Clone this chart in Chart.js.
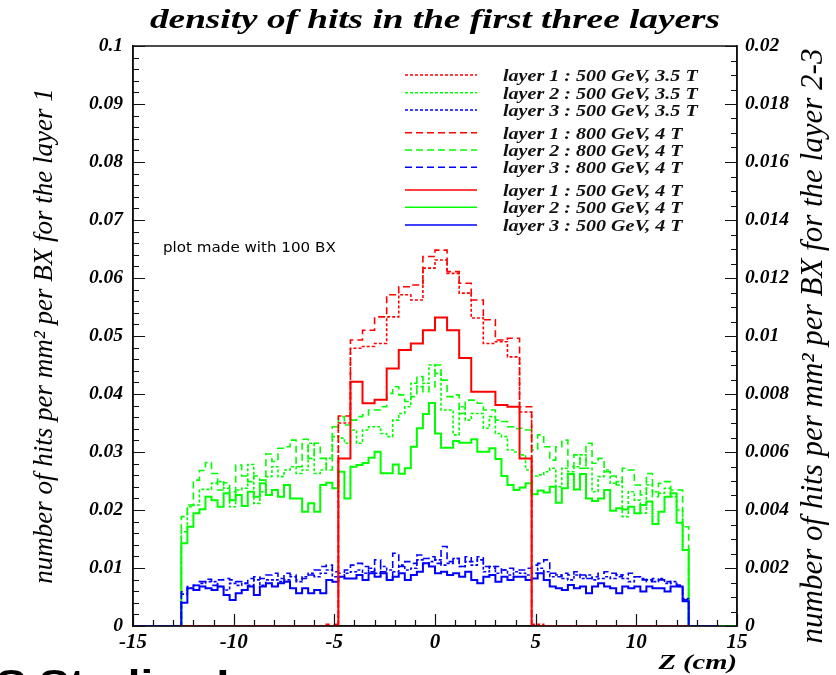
<!DOCTYPE html>
<html>
<head>
<meta charset="utf-8">
<script src="https://cdn.jsdelivr.net/npm/chart.js@4/dist/chart.umd.min.js"></script>
<style>
  html, body { margin: 0; padding: 0; background: #fff; }
  #wrap { position: relative; width: 836px; height: 675px; overflow: hidden; }
  canvas { display: block; }
</style>
</head>
<body>
<div id="wrap"><canvas id="c" width="836" height="675"></canvas></div>
<script>
// ---- histogram contents ----------------------------------------------------
// layers 2 and 3: 84 bins of 0.3 cm from z = -12.6 cm to z = +12.6 cm (right axis units)
const fineStart = -12.6;
const fineWidth = 0.3;

const layer2_500GeV_35T = [
  0.00325, 0.00411, 0.00417, 0.00471, 0.00471, 0.00492, 0.00498, 0.00475, 0.00411, 0.00469, 0.00475, 0.00557, 0.00423, 0.00463,
  0.00515, 0.00549, 0.00515, 0.00538, 0.00549, 0.00526, 0.00538, 0.00630, 0.00526, 0.00538, 0.00578, 0.00653, 0.00648, 0.00630,
  0.00676, 0.00630, 0.00676, 0.00687, 0.00687, 0.00664, 0.00653, 0.00710, 0.00733, 0.00756, 0.00837, 0.00825, 0.00837, 0.00900,
  0.00871, 0.00745, 0.00745, 0.00659, 0.00756, 0.00710, 0.00733, 0.00733, 0.00682, 0.00722, 0.00664, 0.00653, 0.00607, 0.00600,
  0.00590, 0.00538, 0.00517, 0.00521, 0.00532, 0.00544, 0.00480, 0.00544, 0.00532, 0.00549, 0.00590, 0.00544, 0.00463, 0.00515,
  0.00538, 0.00492, 0.00498, 0.00377, 0.00463, 0.00434, 0.00389, 0.00486, 0.00463, 0.00458, 0.00475, 0.00446, 0.00400, 0.00262
];
const layer3_500GeV_35T = [
  0.00110, 0.00130, 0.00140, 0.00147, 0.00153, 0.00153, 0.00136, 0.00124, 0.00147, 0.00140, 0.00147, 0.00140, 0.00159, 0.00140,
  0.00159, 0.00159, 0.00153, 0.00159, 0.00170, 0.00153, 0.00170, 0.00182, 0.00170, 0.00182, 0.00193, 0.00170, 0.00170, 0.00182,
  0.00187, 0.00193, 0.00182, 0.00199, 0.00182, 0.00205, 0.00193, 0.00187, 0.00210, 0.00193, 0.00199, 0.00228, 0.00216, 0.00222,
  0.00228, 0.00210, 0.00216, 0.00233, 0.00205, 0.00222, 0.00210, 0.00228, 0.00187, 0.00205, 0.00182, 0.00193, 0.00176, 0.00187,
  0.00182, 0.00176, 0.00182, 0.00199, 0.00187, 0.00170, 0.00176, 0.00164, 0.00159, 0.00176, 0.00164, 0.00176, 0.00159, 0.00164,
  0.00170, 0.00164, 0.00176, 0.00164, 0.00153, 0.00170, 0.00164, 0.00159, 0.00153, 0.00164, 0.00147, 0.00153, 0.00136, 0.00095
];
const layer2_800GeV_4T = [
  0.00377, 0.00417, 0.00503, 0.00536, 0.00564, 0.00526, 0.00469, 0.00494, 0.00463, 0.00555, 0.00517, 0.00498, 0.00517, 0.00503,
  0.00593, 0.00567, 0.00613, 0.00618, 0.00641, 0.00549, 0.00644, 0.00578, 0.00630, 0.00578, 0.00538, 0.00687, 0.00722, 0.00693,
  0.00710, 0.00722, 0.00728, 0.00745, 0.00745, 0.00756, 0.00802, 0.00825, 0.00797, 0.00774, 0.00791, 0.00860, 0.00808, 0.00825,
  0.00900, 0.00848, 0.00791, 0.00797, 0.00733, 0.00779, 0.00779, 0.00768, 0.00745, 0.00745, 0.00710, 0.00705, 0.00687, 0.00680,
  0.00682, 0.00676, 0.00607, 0.00659, 0.00618, 0.00572, 0.00618, 0.00641, 0.00549, 0.00590, 0.00544, 0.00630, 0.00561, 0.00578,
  0.00532, 0.00517, 0.00486, 0.00544, 0.00538, 0.00486, 0.00452, 0.00526, 0.00446, 0.00492, 0.00498, 0.00469, 0.00469, 0.00342
];
const layer3_800GeV_4T = [
  0.00118, 0.00136, 0.00140, 0.00153, 0.00161, 0.00140, 0.00159, 0.00164, 0.00159, 0.00153, 0.00147, 0.00164, 0.00170, 0.00164,
  0.00176, 0.00182, 0.00164, 0.00182, 0.00176, 0.00159, 0.00164, 0.00176, 0.00193, 0.00205, 0.00210, 0.00187, 0.00182, 0.00193,
  0.00210, 0.00216, 0.00205, 0.00187, 0.00228, 0.00187, 0.00159, 0.00251, 0.00205, 0.00222, 0.00216, 0.00245, 0.00233, 0.00239,
  0.00216, 0.00274, 0.00222, 0.00233, 0.00205, 0.00239, 0.00222, 0.00239, 0.00205, 0.00199, 0.00205, 0.00193, 0.00199, 0.00193,
  0.00193, 0.00199, 0.00210, 0.00216, 0.00228, 0.00182, 0.00170, 0.00182, 0.00176, 0.00187, 0.00176, 0.00164, 0.00170, 0.00182,
  0.00187, 0.00182, 0.00170, 0.00176, 0.00182, 0.00170, 0.00159, 0.00153, 0.00164, 0.00159, 0.00153, 0.00147, 0.00141, 0.00090
];
const layer2_500GeV_4T = [
  0.00285, 0.00342, 0.00389, 0.00403, 0.00446, 0.00434, 0.00411, 0.00458, 0.00434, 0.00452, 0.00414, 0.00463, 0.00446, 0.00492,
  0.00452, 0.00469, 0.00446, 0.00486, 0.00440, 0.00440, 0.00394, 0.00423, 0.00394, 0.00486, 0.00494, 0.00475, 0.00532, 0.00440,
  0.00549, 0.00555, 0.00562, 0.00580, 0.00601, 0.00527, 0.00527, 0.00557, 0.00525, 0.00544, 0.00618, 0.00682, 0.00731, 0.00769,
  0.00664, 0.00615, 0.00615, 0.00638, 0.00632, 0.00632, 0.00644, 0.00601, 0.00601, 0.00613, 0.00576, 0.00517, 0.00486, 0.00469,
  0.00478, 0.00492, 0.00454, 0.00467, 0.00460, 0.00480, 0.00425, 0.00475, 0.00524, 0.00471, 0.00524, 0.00440, 0.00431, 0.00440,
  0.00469, 0.00397, 0.00406, 0.00402, 0.00411, 0.00389, 0.00417, 0.00429, 0.00352, 0.00394, 0.00446, 0.00458, 0.00356, 0.00262
];
const layer3_500GeV_4T = [
  0.00080, 0.00130, 0.00124, 0.00136, 0.00130, 0.00124, 0.00136, 0.00107, 0.00090, 0.00113, 0.00124, 0.00136, 0.00107, 0.00136,
  0.00147, 0.00136, 0.00147, 0.00153, 0.00130, 0.00113, 0.00130, 0.00113, 0.00124, 0.00113, 0.00159, 0.00153, 0.00170, 0.00164,
  0.00164, 0.00176, 0.00159, 0.00182, 0.00170, 0.00182, 0.00159, 0.00170, 0.00182, 0.00159, 0.00176, 0.00187, 0.00216, 0.00205,
  0.00182, 0.00187, 0.00176, 0.00182, 0.00170, 0.00187, 0.00159, 0.00147, 0.00170, 0.00176, 0.00153, 0.00170, 0.00159, 0.00170,
  0.00170, 0.00159, 0.00164, 0.00182, 0.00159, 0.00136, 0.00130, 0.00124, 0.00141, 0.00130, 0.00136, 0.00113, 0.00136, 0.00147,
  0.00136, 0.00130, 0.00113, 0.00136, 0.00130, 0.00136, 0.00119, 0.00136, 0.00130, 0.00130, 0.00119, 0.00136, 0.00136, 0.00085
];

// layer 1: 18 bins of 0.6 cm from z = -5.4 cm to z = +5.4 cm (left axis units)
const coarseStart = -5.4;
const coarseWidth = 0.6;
const layer1_500GeV_35T = [0, 0.0350, 0.0479, 0.0482, 0.0487, 0.0533, 0.0571, 0.0562, 0.0617, 0.0631, 0.0608, 0.0574, 0.0531, 0.0487, 0.0490, 0.0464, 0.0369, 0.0003];
const layer1_800GeV_4T  = [0.0003, 0.0362, 0.0493, 0.0510, 0.0533, 0.0571, 0.0585, 0.0588, 0.0637, 0.0648, 0.0611, 0.0591, 0.0562, 0.0528, 0.0493, 0.0496, 0.0378, 0];
const layer1_500GeV_4T  = [0, 0.0289, 0.0421, 0.0384, 0.0390, 0.0444, 0.0476, 0.0487, 0.0510, 0.0532, 0.0510, 0.0462, 0.0404, 0.0404, 0.0381, 0.0378, 0.0289, 0];

// ---- axes ------------------------------------------------------------------
const xTickValues = [-15, -10, -5, 0, 5, 10, 15];
const xTickLabels = ['-15', '-10', '-5', '0', '5', '10', '15'];
const yLeftTickValues = [0, 0.01, 0.02, 0.03, 0.04, 0.05, 0.06, 0.07, 0.08, 0.09, 0.1];
const yLeftTickLabels = ['0', '0.01', '0.02', '0.03', '0.04', '0.05', '0.06', '0.07', '0.08', '0.09', '0.1'];
const yRightTickValues = [0, 0.002, 0.004, 0.006, 0.008, 0.01, 0.012, 0.014, 0.016, 0.018, 0.02];
const yRightTickLabels = ['0', '0.002', '0.004', '0.006', '0.008', '0.01', '0.012', '0.014', '0.016', '0.018', '0.02'];

const chartTitle = 'density of hits in the first three layers';
const xTitle = 'Z (cm)';
const yLeftTitle = 'number of hits per mm\u00B2 per BX for the layer 1';
const yRightTitle = 'number of hits per mm\u00B2 per BX for the layer 2-3';
const noteText = 'plot made with 100 BX';
const footerText = 'S Studies I';

// ---- styles ----------------------------------------------------------------
const RED = 'rgb(255,0,0)', GREEN = 'rgb(0,255,0)', BLUE = 'rgb(0,0,255)';
const DOTTED = [3, 2], DASHED = [7, 4], SOLID = [];
const SERIF = '"Liberation Serif", "DejaVu Serif", serif';
const serifBI = (size) => ({ family: SERIF, size, style: 'italic', weight: 'bold' });

// turn bin contents into stepped outline points: flat at zero from rangeMin, the bins, back to zero up to rangeMax
function outline(start, width, values, rangeMin, rangeMax) {
  const pts = [{ x: rangeMin, y: 0 }];
  values.forEach((v, i) => pts.push({ x: +(start + i * width).toFixed(4), y: v }));
  pts.push({ x: +(start + values.length * width).toFixed(4), y: 0 });
  pts.push({ x: rangeMax, y: 0 });
  return pts;
}

function series(label, color, dash, axis, pts, order, width) {
  return {
    label, data: pts, yAxisID: axis, order,
    borderColor: color, backgroundColor: color, borderDash: dash,
    borderWidth: width, pointRadius: 0, fill: false, stepped: 'before', tension: 0
  };
}

const datasets = [
  series('layer 1 : 500 GeV, 3.5 T', RED,   DOTTED, 'y',  outline(coarseStart, coarseWidth, layer1_500GeV_35T, -12.6, 12.6), 0, 1.6),
  series('layer 2 : 500 GeV, 3.5 T', GREEN, DOTTED, 'y2', outline(fineStart, fineWidth, layer2_500GeV_35T, -15, 15), 2, 1.6),
  series('layer 3 : 500 GeV, 3.5 T', BLUE,  DOTTED, 'y2', outline(fineStart, fineWidth, layer3_500GeV_35T, -15, 14.1), 1, 1.6),
  series('layer 1 : 800 GeV, 4 T',   RED,   DASHED, 'y',  outline(coarseStart, coarseWidth, layer1_800GeV_4T, -12.6, 12.6), 0, 1.6),
  series('layer 2 : 800 GeV, 4 T',   GREEN, DASHED, 'y2', outline(fineStart, fineWidth, layer2_800GeV_4T, -15, 15), 2, 1.6),
  series('layer 3 : 800 GeV, 4 T',   BLUE,  DASHED, 'y2', outline(fineStart, fineWidth, layer3_800GeV_4T, -15, 14.1), 1, 1.6),
  series('layer 1 : 500 GeV, 4 T',   RED,   SOLID,  'y',  outline(coarseStart, coarseWidth, layer1_500GeV_4T, -12.6, 12.6), 0, 2),
  series('layer 2 : 500 GeV, 4 T',   GREEN, SOLID,  'y2', outline(fineStart, fineWidth, layer2_500GeV_4T, -15, 15), 2, 2),
  series('layer 3 : 500 GeV, 4 T',   BLUE,  SOLID,  'y2', outline(fineStart, fineWidth, layer3_500GeV_4T, -15, 14.1), 1, 2)
];

// text drawn with a horizontal stretch, like the wide italic face of the plot
function wideText(ctx, text, x, y, font, stretch, align) {
  ctx.save();
  ctx.font = font;
  ctx.textAlign = 'left';
  const w = ctx.measureText(text).width * stretch;
  let x0 = x;
  if (align === 'center') x0 = x - w / 2;
  else if (align === 'right') x0 = x - w;
  ctx.translate(x0, y);
  ctx.scale(stretch, 1);
  ctx.fillText(text, 0, 0);
  ctx.restore();
}

// ---- frame, inner tick marks, legend box and free texts ---------------------
const framePlugin = {
  id: 'frame',
  afterDraw(chart) {
    const { ctx, chartArea: a, scales } = chart;
    const { x, y, y2 } = scales;
    ctx.save();
    ctx.strokeStyle = '#111';
    ctx.lineWidth = 1.5;
    ctx.strokeRect(a.left, a.top, a.right - a.left, a.bottom - a.top);
    ctx.lineWidth = 1.2;
    ctx.beginPath();
    // x: major every 5 cm, minor every 1 cm
    for (let k = -15; k <= 15; k++) {
      const px = Math.round(x.getPixelForValue(k)) + 0.5;
      const len = k % 5 === 0 ? 12 : 6;
      ctx.moveTo(px, a.bottom); ctx.lineTo(px, a.bottom - len);
    }
    // left: major every 0.01, minor every 0.002
    for (let k = 0; k <= 50; k++) {
      const py = Math.round(y.getPixelForValue(k * 0.002)) + 0.5;
      const len = k % 5 === 0 ? 12 : 6;
      ctx.moveTo(a.left, py); ctx.lineTo(a.left + len, py);
    }
    // right: major every 0.002, minor every 0.0005
    for (let k = 0; k <= 40; k++) {
      const py = Math.round(y2.getPixelForValue(k * 0.0005)) + 0.5;
      const len = k % 4 === 0 ? 12 : 6;
      ctx.moveTo(a.right, py); ctx.lineTo(a.right - len, py);
    }
    ctx.stroke();

    ctx.fillStyle = '#000';
    ctx.textBaseline = 'alphabetic';

    // title
    wideText(ctx, chartTitle, (a.left + a.right) / 2, 28, 'italic bold 28px ' + SERIF, 1.33, 'center');

    // x axis title
    wideText(ctx, xTitle, a.right, 669, 'italic bold 22px ' + SERIF, 1.3, 'right');

    // legend
    const rows = [75, 92.7, 110, 132.7, 150, 167.3, 190, 207.3, 225];
    chart.data.datasets.forEach((ds, i) => {
      const ry = rows[i];
      ctx.strokeStyle = ds.borderColor;
      ctx.lineWidth = 1.6;
      ctx.setLineDash(ds.borderDash);
      ctx.beginPath(); ctx.moveTo(405, ry); ctx.lineTo(477, ry); ctx.stroke();
      ctx.setLineDash([]);
      ctx.fillStyle = '#111';
      wideText(ctx, ds.label, 503, ry + 6, 'italic bold 17px ' + SERIF, 1.18, 'left');
    });

    // note
    ctx.fillStyle = '#000';
    wideText(ctx, noteText, 163, 252, '14px "DejaVu Sans", sans-serif', 1.08, 'left');

    // right axis title, reading bottom to top
    ctx.save();
    ctx.translate(822, 346);
    ctx.rotate(-Math.PI / 2);
    ctx.textAlign = 'center';
    ctx.textBaseline = 'alphabetic';
    ctx.font = 'italic 31px ' + SERIF;
    ctx.fillText(yRightTitle, 0, 0);
    ctx.restore();

    // footer fragment at the page bottom
    wideText(ctx, footerText, -4, 697, 'bold 38px "Liberation Sans", sans-serif', 1.2, 'left');
    ctx.restore();
  }
};

new Chart(document.getElementById('c'), {
  type: 'line',
  data: { datasets },
  options: {
    responsive: false,
    animation: false,
    devicePixelRatio: 1,
    layout: { padding: { top: 46 } },
    plugins: {
      legend: { display: false },
      tooltip: { enabled: false },
      title: { display: false, text: chartTitle }
    },
    scales: {
      x: {
        type: 'linear', min: -15, max: 15,
        afterBuildTicks: s => { s.ticks = xTickValues.map(v => ({ value: v })); },
        afterFit: s => { s.height = 49; },
        ticks: { callback: (v, i) => xTickLabels[i], font: serifBI(21), color: '#000', padding: 4, maxRotation: 0, autoSkip: false },
        grid: { display: false, drawTicks: false },
        border: { display: true, color: '#111', width: 1.5 },
        title: { display: false, text: xTitle }
      },
      y: {
        position: 'left', min: 0, max: 0.1,
        afterBuildTicks: s => { s.ticks = yLeftTickValues.map(v => ({ value: v })); },
        afterFit: s => { s.width = 133; },
        ticks: { callback: (v, i) => yLeftTickLabels[i], font: serifBI(19.5), color: '#000', padding: 10, autoSkip: false },
        grid: { display: false, drawTicks: false },
        border: { display: true, color: '#111', width: 1.5 },
        title: { display: true, text: yLeftTitle, color: '#000', font: { family: SERIF, size: 27, style: 'italic' }, padding: { top: 29, bottom: 0 } }
      },
      y2: {
        position: 'right', min: 0, max: 0.02,
        afterBuildTicks: s => { s.ticks = yRightTickValues.map(v => ({ value: v })); },
        afterFit: s => { s.width = 99; },
        ticks: { callback: (v, i) => yRightTickLabels[i], font: serifBI(19.5), color: '#000', padding: 8, autoSkip: false },
        grid: { display: false, drawTicks: false },
        border: { display: true, color: '#111', width: 1.5 }
      }
    }
  },
  plugins: [framePlugin]
});
</script>
</body>
</html>
